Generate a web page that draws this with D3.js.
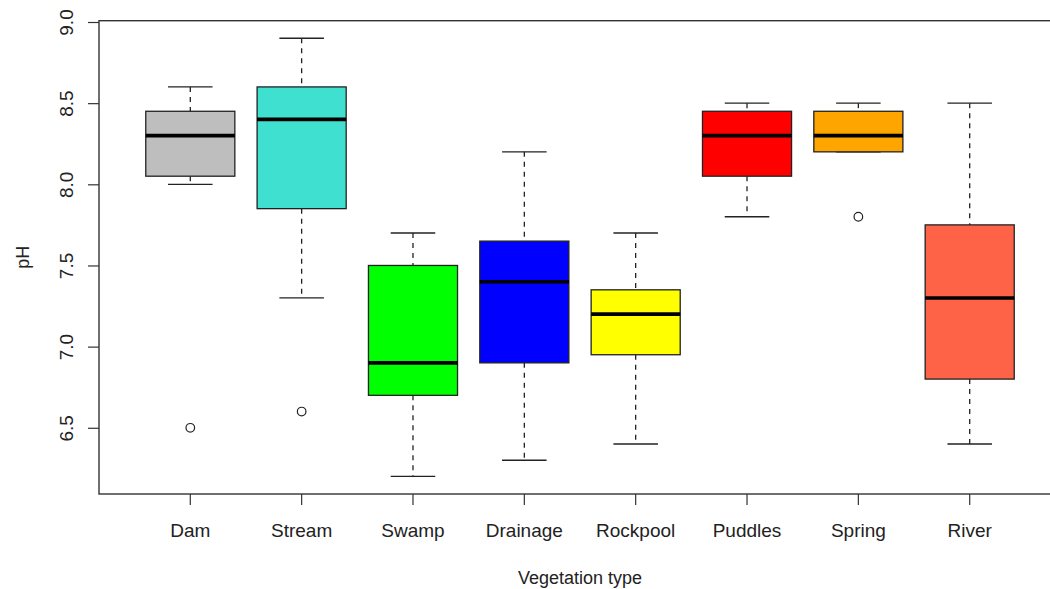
<!DOCTYPE html>
<html>
<head>
<meta charset="utf-8">
<script src="https://cdn.jsdelivr.net/npm/d3@7"></script>
<style>
  html, body { margin: 0; padding: 0; background: #fff; }
  svg { display: block; }
  text { font-family: "Liberation Sans", Arial, sans-serif; fill: #222; }
</style>
</head>
<body>
<svg id="chart" width="1050" height="589"></svg>
<script>
// pH by vegetation type: five-number summaries plus outliers
const categories = ["Dam", "Stream", "Swamp", "Drainage", "Rockpool", "Puddles", "Spring", "River"];
const whiskerLow  = [8.0, 7.3, 6.2, 6.3, 6.4, 7.8, 8.2, 6.4];
const quartile1   = [8.05, 7.85, 6.7, 6.9, 6.95, 8.05, 8.2, 6.8];
const medians     = [8.3, 8.4, 6.9, 7.4, 7.2, 8.3, 8.3, 7.3];
const quartile3   = [8.45, 8.6, 7.5, 7.65, 7.35, 8.45, 8.45, 7.75];
const whiskerHigh = [8.6, 8.9, 7.7, 8.2, 7.7, 8.5, 8.5, 8.5];
const outliers    = [[6.5], [6.6], [], [], [], [], [7.8], []];
const fills       = ["#bebebe", "#40e0d0", "#00ff00", "#0000ff", "#ffff00", "#ff0000", "#ffa500", "#ff6347"];
const yTicks      = [6.5, 7.0, 7.5, 8.0, 8.5, 9.0];

const boxes = categories.map((name, i) => ({
  name, pos: i + 1,
  lo: whiskerLow[i], q1: quartile1[i], med: medians[i], q3: quartile3[i], hi: whiskerHigh[i],
  out: outliers[i], fill: fills[i]
}));

const svg = d3.select("#chart");

// plot region (positions 0.18..8.82 horizontally, padded pH range vertically)
const x = d3.scaleLinear().domain([0.18, 8.82]).range([99, 1061]);
const y = d3.scaleLinear().domain([6.092, 9.008]).range([494, 20.7]);

const boxW = (x(1.4) - x(0.6));
const capW = boxW / 2;

// frame
svg.append("rect")
  .attr("x", x(0.18)).attr("y", y(9.008))
  .attr("width", x(8.82) - x(0.18)).attr("height", y(6.092) - y(9.008))
  .attr("fill", "none").attr("stroke", "#333").attr("stroke-width", 1.4);

// y axis
const yAxis = svg.append("g").attr("transform", `translate(${x(0.18)},0)`)
  .call(d3.axisLeft(y).tickValues(yTicks).tickSize(11).tickFormat(d3.format(".1f")));
yAxis.select(".domain").remove();
yAxis.selectAll(".tick line").attr("stroke", "#333").attr("stroke-width", 1.2);
yAxis.selectAll(".tick text")
  .attr("x", null).attr("dy", null)
  .attr("transform", "translate(-26,0) rotate(-90)")
  .attr("text-anchor", "middle")
  .style("font-size", "19px").style("font-family", "'Liberation Sans', Arial, sans-serif").attr("fill", "#222");

// x axis
const xBand = d3.scaleOrdinal().domain(categories).range(categories.map((c, i) => x(i + 1)));
const xAxis = svg.append("g").attr("transform", `translate(0,${y(6.092)})`);
xAxis.selectAll("line.tk").data(boxes).join("line")
  .attr("class", "tk")
  .attr("x1", d => xBand(d.name)).attr("x2", d => xBand(d.name))
  .attr("y1", 0).attr("y2", 11).attr("stroke", "#333").attr("stroke-width", 1.2);
xAxis.selectAll("text").data(boxes).join("text")
  .attr("x", d => xBand(d.name)).attr("y", 43)
  .attr("text-anchor", "middle")
  .style("font-size", "19px")
  .text(d => d.name);

// whiskers (dashed), caps, boxes, medians, outliers
const g = svg.append("g");
const bx = g.selectAll("g.box").data(boxes).join("g").attr("class", "box");

bx.append("line")
  .attr("x1", d => x(d.pos)).attr("x2", d => x(d.pos))
  .attr("y1", d => y(d.hi)).attr("y2", d => y(d.q3))
  .attr("stroke", "#222").attr("stroke-width", 1.3).attr("stroke-dasharray", "5,5");
bx.append("line")
  .attr("x1", d => x(d.pos)).attr("x2", d => x(d.pos))
  .attr("y1", d => y(d.q1)).attr("y2", d => y(d.lo))
  .attr("stroke", "#222").attr("stroke-width", 1.3).attr("stroke-dasharray", "5,5");
bx.append("line")
  .attr("x1", d => x(d.pos) - capW / 2).attr("x2", d => x(d.pos) + capW / 2)
  .attr("y1", d => y(d.hi)).attr("y2", d => y(d.hi))
  .attr("stroke", "#222").attr("stroke-width", 1.3);
bx.append("line")
  .attr("x1", d => x(d.pos) - capW / 2).attr("x2", d => x(d.pos) + capW / 2)
  .attr("y1", d => y(d.lo)).attr("y2", d => y(d.lo))
  .attr("stroke", "#222").attr("stroke-width", 1.3);
bx.append("rect")
  .attr("x", d => x(d.pos) - boxW / 2).attr("width", boxW)
  .attr("y", d => y(d.q3)).attr("height", d => y(d.q1) - y(d.q3))
  .attr("fill", d => d.fill).attr("stroke", "#222").attr("stroke-width", 1.3);
bx.append("line")
  .attr("x1", d => x(d.pos) - boxW / 2).attr("x2", d => x(d.pos) + boxW / 2)
  .attr("y1", d => y(d.med)).attr("y2", d => y(d.med))
  .attr("stroke", "#000").attr("stroke-width", 3.6);
bx.selectAll("circle").data(d => d.out.map(v => ({ v, pos: d.pos }))).join("circle")
  .attr("cx", d => x(d.pos)).attr("cy", d => y(d.v)).attr("r", 4.3)
  .attr("fill", "#fff").attr("stroke", "#222").attr("stroke-width", 1.2);

// axis titles
svg.append("text")
  .attr("x", (x(0.18) + x(8.82)) / 2).attr("y", 584)
  .attr("text-anchor", "middle").style("font-size", "18px")
  .text("Vegetation type");
svg.append("text")
  .attr("transform", `translate(29,${(y(6.092) + y(9.008)) / 2}) rotate(-90)`)
  .attr("text-anchor", "middle").style("font-size", "18px")
  .text("pH");
</script>
</body>
</html>
